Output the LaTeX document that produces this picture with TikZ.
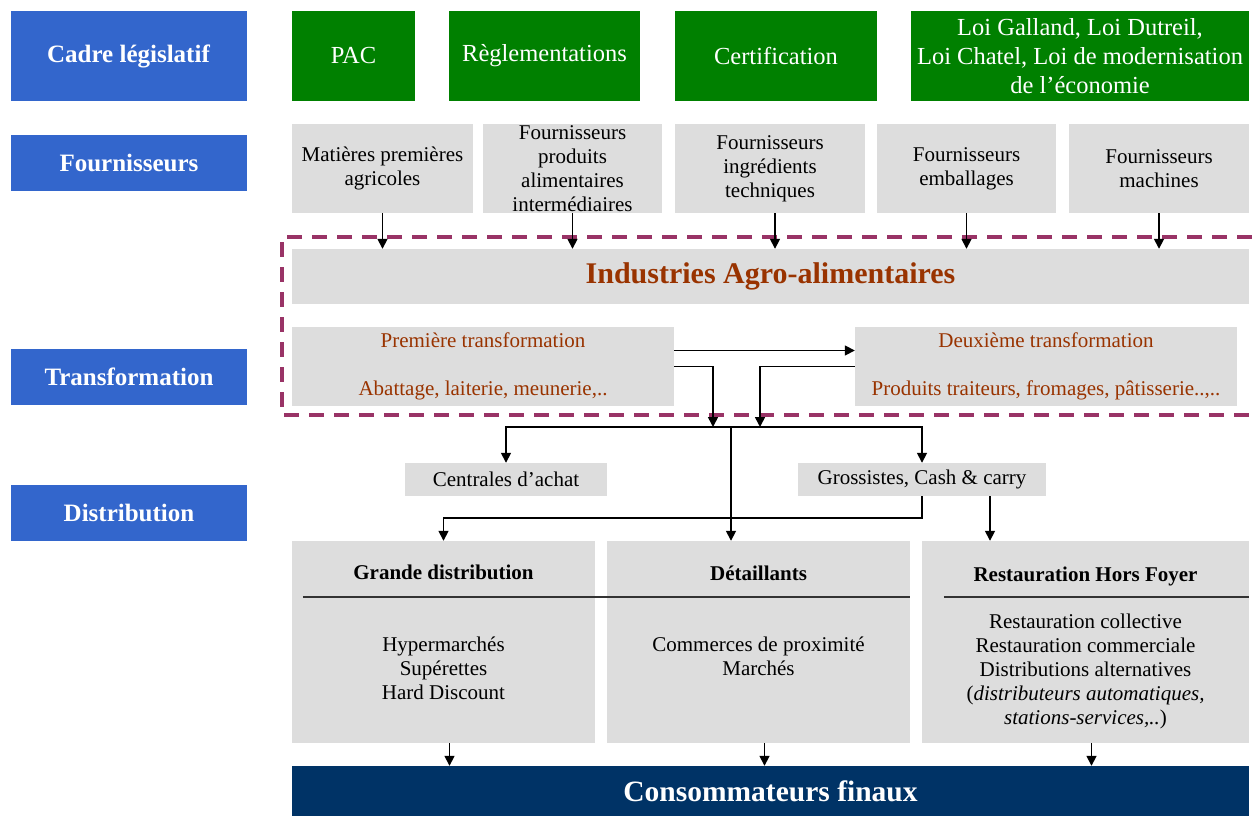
\documentclass[tikz,border=0pt]{standalone}
\usepackage{fontspec}
\setmainfont{Liberation Serif}
\usepackage{xcolor}
\usepackage{tikz}
\usetikzlibrary{arrows.meta}
\definecolor{bleu}{HTML}{3366CC}
\definecolor{vert}{HTML}{008000}
\definecolor{grisclair}{HTML}{DDDDDD}
\definecolor{marine}{HTML}{003366}
\definecolor{violet}{HTML}{993366}
\definecolor{brique}{HTML}{993300}

\begin{document}
\begin{tikzpicture}
                        [x=1pt, y=-1pt,
                        titre/.style = {fill=bleu, text=white,
                                    font=\fontsize{25}{30}\selectfont\bfseries,
                                    minimum width=236pt, minimum height=56pt},
                        loi/.style = {fill=vert, text=white, align=center,
                                    font=\fontsize{24.5}{29}\selectfont,
                                    minimum height=90pt},
                        gris/.style = {fill=grisclair, align=center, inner sep=0pt,
                                    font=\fontsize{21}{24}\selectfont},
                        txt/.style = {align=center, inner sep=0pt,
                                    font=\fontsize{21}{24}\selectfont},
                        fleche/.style = {-{Triangle[length=10pt,width=10pt]},
                                    line width=1.6pt}]
                        \useasboundingbox (0,0) rectangle (1252,816);
                        % Colonne de gauche
                        \node[titre, minimum height=90pt] (cadre) at (128.5,56) {Cadre législatif};
                        \node[titre] (four) at (129,163) {Fournisseurs};
                        \node[titre] (trans) at (129,377) {Transformation};
                        \node[titre] (distr) at (129,512.5) {Distribution};
                        % Cadre législatif
                        \node[loi, minimum width=123pt] (pac) at (353.5,56) {PAC};
                        \node[loi, minimum width=191pt] (regl) at (544.5,56) {Règlementations};
                        \node[loi, minimum width=202pt] (certif) at (776,56) {Certification};
                        \node[loi, minimum width=338pt] (lois) at (1080,56)
                            {Loi Galland, Loi Dutreil,\\Loi Chatel, Loi de modernisation\\de l’économie};
                        % Fournisseurs
                        \node[gris, minimum width=181pt, minimum height=89pt] (mp) at (382.5,168.5)
                            {Matières premières\\agricoles};
                        \node[gris, minimum width=179pt, minimum height=89pt,
                            label={[txt]center:{Fournisseurs\\produits\\alimentaires\\intermédiaires}}]
                            (fpa) at (572.5,168.5) {};
                        \node[gris, minimum width=190pt, minimum height=89pt] (fit) at (770,168.5)
                            {Fournisseurs\\ingrédients\\techniques};
                        \node[gris, minimum width=179pt, minimum height=89pt] (fe) at (966.5,168.5)
                            {Fournisseurs\\emballages};
                        \node[gris, minimum width=180pt, minimum height=89pt] (fm) at (1159,168.5)
                            {Fournisseurs\\machines};
                        % Industries agro-alimentaires
                        \draw[violet, line width=3.2pt, dash pattern=on 15pt off 10pt]
                            (1252,237) -| (282,415) -- (1252,415);
                        \node[fill=grisclair, text=brique, minimum width=957pt, minimum height=55pt,
                            font=\fontsize{30}{34}\selectfont\bfseries] (iaa) at (770.5,276.5)
                            {Industries Agro-alimentaires};
                        \node[gris, text=brique, minimum width=382pt, minimum height=79pt] (pt) at (483,366.5)
                            {Première transformation\\[24pt]Abattage, laiterie, meunerie,..};
                        \node[gris, text=brique, minimum width=382pt, minimum height=79pt] (dt) at (1046,366.5)
                            {Deuxième transformation\\[24pt]Produits traiteurs, fromages, pâtisserie..,..};
                        \draw[fleche] (mp.south) -- (mp.south |- iaa.north);
                        \draw[fleche] (fpa.south) -- (fpa.south |- iaa.north);
                        \draw[fleche] ([xshift=5pt]fit.south) -- ([xshift=5pt]fit.south |- iaa.north);
                        \draw[fleche] (fe.south) -- (fe.south |- iaa.north);
                        \draw[fleche] (fm.south) -- (fm.south |- iaa.north);
                        % Distribution
                        \node[gris, minimum width=202pt, minimum height=33pt] (cent) at (506,479.5)
                            {Centrales d’achat};
                        \node[gris, minimum width=248pt, minimum height=33pt] (gros) at (922,479.5)
                            {Grossistes, Cash \& carry};
                        \coordinate (bus) at (731,427);
                        \coordinate (busg) at (713,427);
                        \coordinate (busd) at (760,427);
                        \draw[fleche] ([yshift=16pt]pt.east) -- ([yshift=16pt]pt.east -| dt.west);
                        \draw[fleche] (pt.east) -| (busg);
                        \draw[fleche] (dt.west) -| (busd);
                        \draw[fleche, {Triangle[length=10pt,width=10pt]}-{Triangle[length=10pt,width=10pt]}]
                            (cent.north) |- (bus) -| (gros.north);
                        % Circuits de vente
                        \node[gris, minimum width=303pt, minimum height=202pt] (gd) at (443.5,642) {};
                        \node[gris, minimum width=303pt, minimum height=202pt] (det) at (758.5,642) {};
                        \node[gris, minimum width=327pt, minimum height=202pt] (rhf) at (1085.5,642) {};
                        \draw[fleche] (bus) -- (bus |- det.north);
                        \draw[fleche] (gros.south) -- ++(0,22) -| (gd.north);
                        \draw[fleche] ([xshift=68pt]gros.south) -- ([xshift=68pt]gros.south |- rhf.north);
                        \draw[line width=1.5pt, black!80] ([shift={(11,56)}]gd.north west) -- ([shift={(0,56)}]det.north east);
                        \draw[line width=1.5pt, black!80] ([shift={(22,56)}]rhf.north west) -- ([shift={(0,56)}]rhf.north east);
                        \node[txt, font=\fontsize{21}{24}\selectfont\bfseries] (gdt) at ([yshift=-32pt]gd.north) {Grande distribution};
                        \node[txt, font=\fontsize{21}{24}\selectfont\bfseries] (dett) at ([yshift=-32pt]det.north) {Détaillants};
                        \node[txt, font=\fontsize{21}{24}\selectfont\bfseries] (rhft) at ([yshift=-36pt]rhf.north) {Restauration Hors Foyer};
                        \node[txt] (gdl) at ([yshift=-127pt]gd.north) {Hypermarchés\\Supérettes\\Hard Discount};
                        \node[txt] (detl) at ([yshift=-115pt]det.north) {Commerces de proximité\\Marchés};
                        \node[txt] (rhfl) at ([yshift=-131pt]rhf.north)
                            {Restauration collective\\Restauration commerciale\\Distributions alternatives\\
                            (\textit{distributeurs automatiques,}\\\textit{stations-services,..})};
                        % Consommateurs
                        \node[fill=marine, text=white, minimum width=957pt, minimum height=50pt,
                            font=\fontsize{29.5}{34}\selectfont\bfseries] (cf) at (770.5,791)
                            {Consommateurs finaux};
                        \draw[fleche] ([xshift=6pt]gd.south) -- ([xshift=6pt]gd.south |- cf.north);
                        \draw[fleche] ([xshift=6pt]det.south) -- ([xshift=6pt]det.south |- cf.north);
                        \draw[fleche] ([xshift=6pt]rhf.south) -- ([xshift=6pt]rhf.south |- cf.north);
                    \end{tikzpicture}
\end{document}
